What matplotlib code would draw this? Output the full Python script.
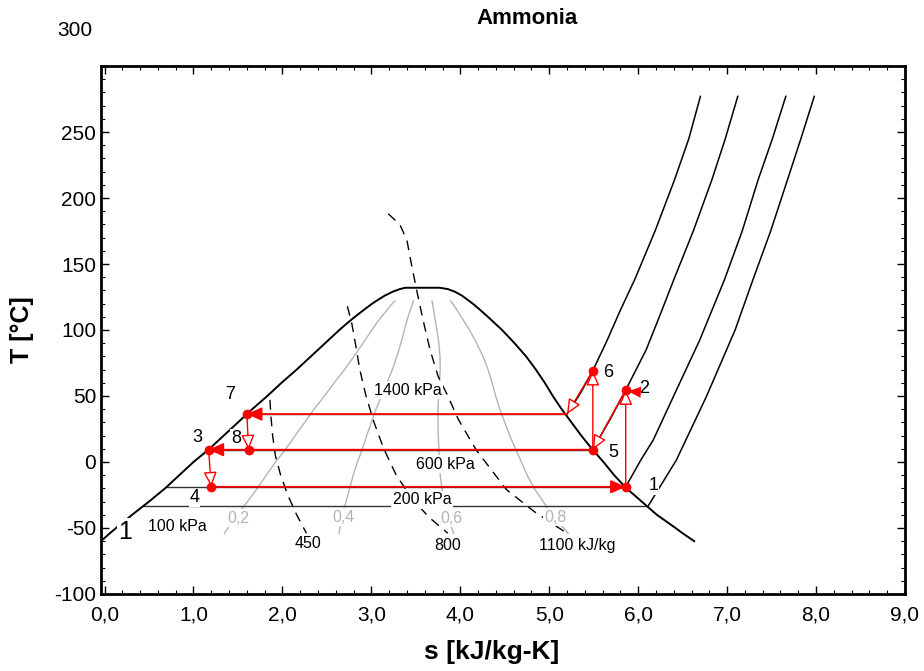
import numpy as np
import matplotlib
matplotlib.use("Agg")
import matplotlib.pyplot as plt
from matplotlib.ticker import MultipleLocator, FuncFormatter

plt.rcParams['font.family'] = ['Liberation Sans', 'DejaVu Sans']

# ---------------------------------------------------------------------
# Saturation dome (T in C, s in kJ/kg-K)
# ---------------------------------------------------------------------
dome_T  = [-60, -54, -50, -40, -30, -20, -10, 0, 10, 20, 30, 40, 50, 60,
           70, 80, 90, 100, 105, 110, 116, 120, 122, 126, 129, 131, 132]
dome_sf = [-0.04, 0.06, 0.13, 0.31, 0.50, 0.68, 0.84, 1.00, 1.18, 1.34, 1.50,
           1.66, 1.83, 1.99, 2.16, 2.32, 2.48, 2.64, 2.725, 2.815, 2.93, 3.01,
           3.055, 3.15, 3.24, 3.32, 3.38]
dome_sg = [6.63, 6.50, 6.42, 6.21, 6.04, 5.87, 5.73, 5.61, 5.48, 5.36, 5.25,
           5.14, 5.04, 4.95, 4.85, 4.74, 4.61, 4.47, 4.39, 4.31, 4.21, 4.14,
           4.10, 4.02, 3.94, 3.86, 3.77]

qualities = [0.2, 0.4, 0.6, 0.8]
q_labels  = ["0,2", "0,4", "0,6", "0,8"]

# superheated isobars
p1400_s = [5.20, 5.35, 5.49, 5.65, 5.80, 5.96, 6.19, 6.41, 6.57, 6.70]
p1400_T = [36.3, 52, 69.2, 92, 115, 138, 175, 214, 245, 277]
p600_s  = [5.49, 5.69, 5.86, 6.09, 6.25, 6.40, 6.62, 6.83, 6.98, 7.12]
p600_T  = [9.3, 33, 54.5, 85, 112, 138, 175, 214, 245, 277]
p200_s  = [5.86, 6.03, 6.17, 6.43, 6.69, 6.97, 7.17, 7.35, 7.51, 7.66]
p200_T  = [-18.8, 1.5, 16.7, 54.5, 92, 138, 175, 214, 245, 277]
p100_s  = [6.11, 6.43, 6.77, 7.09, 7.29, 7.49, 7.68, 7.83, 7.98]
p100_T  = [-33.6, 1.5, 50, 100, 138, 175, 214, 245, 277]
psat_T  = [-33.6, -18.8, 9.3, 36.3]      # 100, 200, 600, 1400 kPa

# isenthalps
h450_s  = [1.86, 1.87, 1.89, 1.92, 1.98, 2.06, 2.16, 2.27]
h450_T  = [47, 35, 20, 5, -10, -25, -40, -54]
h800_s  = [2.73, 2.78, 2.82, 2.87, 2.94, 3.03, 3.14, 3.28, 3.46, 3.65, 3.86]
h800_T  = [118, 105, 90, 70, 50, 30, 10, -10, -28, -42, -54]
h1100_s = [3.19, 3.32, 3.40, 3.45, 3.51, 3.58, 3.66, 3.75, 3.86, 3.98, 4.18,
           4.52, 4.84, 5.20]
h1100_T = [188, 180, 168, 150, 130, 108, 85, 65, 50, 32, 9, -21, -38, -54]

# cycle states 1..8
state_s = [5.86, 5.86, 1.17, 1.20, 5.49, 5.49, 1.60, 1.62]
state_T = [-18.8, 54.5, 9.3, -18.8, 9.3, 69.2, 36.3, 9.3]
sat_vap_1400_s = 5.20

# ---------------------------------------------------------------------
fig = plt.figure(figsize=(9.24, 6.71), dpi=100)
ax = fig.add_axes([0.1093, 0.1148, 0.8701, 0.7868])

T  = np.array(dome_T, dtype=float)
sf = np.array(dome_sf)
sg = np.array(dome_sg)

# dome
ax.plot(np.concatenate([sf, sg[::-1]]), np.concatenate([T, T[::-1]]),
        color="black", lw=1.4, zorder=3)

# quality lines
m = (T >= -54) & (T <= 122)
q_pos = [(1.51, -42.7), (2.69, -41.9), (3.90, -42.7), (5.07, -41.9)]
for x, lab, (tx, ty) in zip(qualities, q_labels, q_pos):
    ax.plot(sf[m] + x * (sg[m] - sf[m]), T[m], color="#b4b4b4", lw=1.0, zorder=1)
    ax.text(tx, ty, lab, color="#b4b4b4", fontsize=11.5, ha="center", va="center",
            bbox=dict(fc="white", ec="none", pad=1.0), zorder=4)

# isobars: inside the dome, then superheated
for Ts in psat_T:
    ax.plot([np.interp(Ts, T, sf), np.interp(Ts, T, sg)], [Ts, Ts],
            color="#333333", lw=1.0, zorder=2)
for xs, ys in [(p1400_s, p1400_T), (p600_s, p600_T), (p200_s, p200_T), (p100_s, p100_T)]:
    ax.plot(xs, ys, color="black", lw=1.1, zorder=2)

# isenthalps
for xs, ys in [(h450_s, h450_T), (h800_s, h800_T), (h1100_s, h1100_T)]:
    ax.plot(xs, ys, color="black", lw=1.0, ls=(0, (7, 5)), zorder=2)

# line labels
lab_kw = dict(fontsize=11.5, ha="center", va="center",
              bbox=dict(fc="white", ec="none", pad=1.0), zorder=4)
ax.text(3.41, 54.5, "1400 kPa", **lab_kw)
ax.text(3.83, -1.7, "600 kPa", **lab_kw)
ax.text(3.57, -28.8, "200 kPa", **lab_kw)
ax.text(0.82, -49.0, "100 kPa", **lab_kw)
ax.text(2.29, -62.1, "450", **lab_kw)
ax.text(3.86, -62.9, "800", **lab_kw)
ax.text(5.31, -62.9, "1100 kJ/kg", **lab_kw)
ax.text(0.23, -52.8, "1", fontsize=18, ha="center", va="center",
        bbox=dict(fc="white", ec="none", pad=1.0), zorder=4)


# ---------------------------------------------------------------------
# cycle
# ---------------------------------------------------------------------
def arrow(p0, p1, filled, lw=1.0):
    ax.annotate("", xy=p1, xytext=p0, zorder=6,
                arrowprops=dict(arrowstyle="-|>,head_length=1.0,head_width=0.45",
                                ec="red", fc="red" if filled else "white",
                                lw=lw, shrinkA=0, shrinkB=0, mutation_scale=9))


P = list(zip(state_s, state_T))
g14 = (sat_vap_1400_s, state_T[6])
arrow(P[0], P[1], False)            # 1 -> 2
arrow(P[1], P[4], False)            # 2 -> 5
arrow(P[4], P[5], False)            # 5 -> 6
arrow(P[5], g14, False)             # 6 -> sat. vapour
arrow(g14, P[6], True, lw=1.3)      # condenser -> 7
arrow(P[6], P[7], False)            # 7 -> 8
arrow(P[4], P[2], True, lw=1.3)     # 5 -> 3
arrow(P[2], P[3], False)            # 3 -> 4
arrow(P[3], P[0], True, lw=1.3)     # 4 -> 1
ax.annotate("", xy=(state_s[1] + 0.03, state_T[1] - 1.0),
            xytext=(state_s[1] + 0.14, state_T[1] - 1.5), zorder=6,
            arrowprops=dict(arrowstyle="-|>,head_length=1.0,head_width=0.45",
                            ec="red", fc="red", lw=0, shrinkA=0, shrinkB=0,
                            mutation_scale=9))

ax.plot(state_s, state_T, "o", color="red", ms=6, zorder=7, ls="none")

offsets = [(20, 1), (13, 1), (-8, 9), (-12, -8), (15, -2), (11, -1), (-12, 14), (-9, 8)]
for i, (dx, dy) in enumerate(offsets):
    ax.annotate(str(i + 1), (state_s[i], state_T[i]), xytext=(dx, dy),
                textcoords="offset points", fontsize=13, ha="center", va="center",
                bbox=dict(fc="white", ec="none", pad=0.5), zorder=5)

# ---------------------------------------------------------------------
# axes
# ---------------------------------------------------------------------
ax.set_xlim(-0.04, 9)
ax.set_ylim(-100, 300)
ax.xaxis.set_major_locator(MultipleLocator(1))
ax.xaxis.set_minor_locator(MultipleLocator(0.2))
ax.yaxis.set_major_locator(MultipleLocator(50))
ax.yaxis.set_minor_locator(MultipleLocator(10))
ax.xaxis.set_major_formatter(FuncFormatter(lambda v, p: f"{v:.1f}".replace(".", ",")))
ax.yaxis.set_major_formatter(FuncFormatter(lambda v, p: "" if v >= 300 else f"{v:.0f}"))
ax.tick_params(which="both", direction="in", top=True, right=True, labelsize=15)
ax.tick_params(which="major", length=6, width=1)
ax.tick_params(which="minor", length=3, width=0.8)
ax.tick_params(axis="x", pad=8)
for sp in ax.spines.values():
    sp.set_linewidth(2)

fig.text(0.081, 1 - 31 / 671, "300", fontsize=15, ha="center", va="center")
fig.text(0.570, 1 - 18 / 671, "Ammonia", fontsize=16, fontweight="bold",
         ha="center", va="center")
fig.text(22 / 924, 1 - 330 / 671, "T [°C]", fontsize=18, fontweight="bold",
         rotation=90, ha="center", va="center")
fig.text(492 / 924, 1 - 652 / 671, "s [kJ/kg-K]", fontsize=19, fontweight="bold",
         ha="center", va="center")

fig.savefig("out.png", dpi=100)
